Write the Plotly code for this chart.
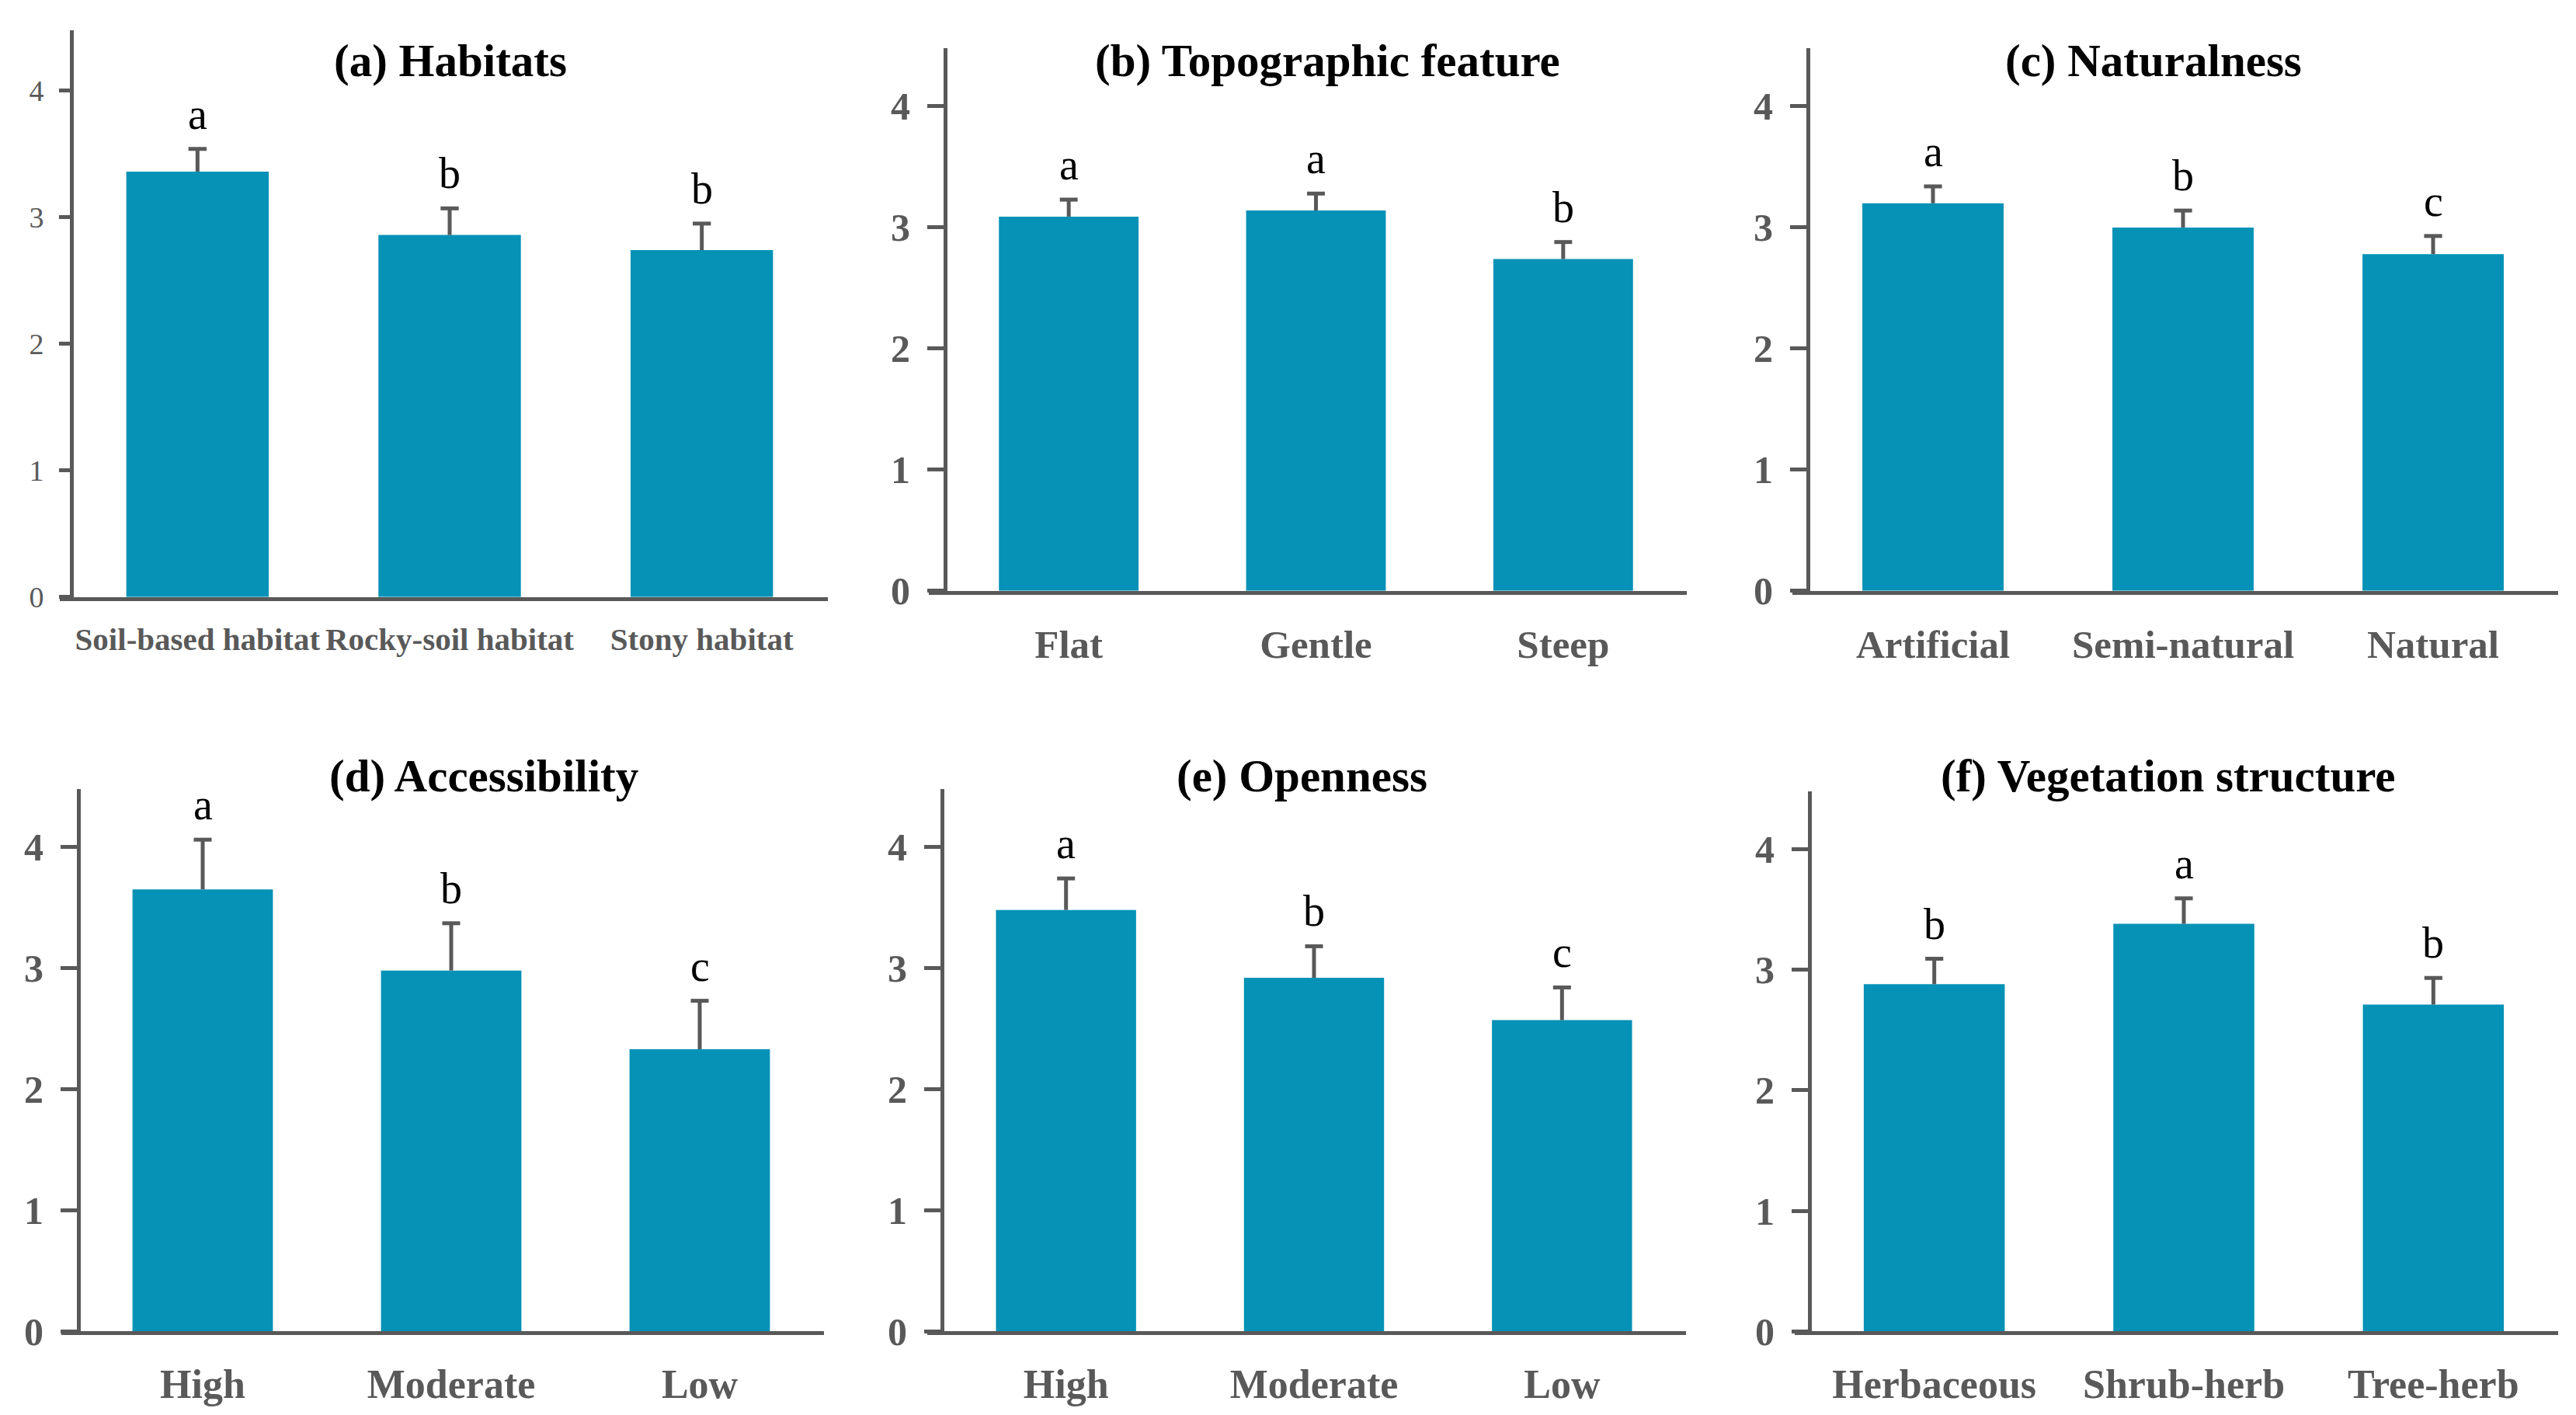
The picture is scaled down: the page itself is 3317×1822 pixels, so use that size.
import plotly.graph_objects as go

# ---------------- data ----------------
titles = ["(a) Habitats", "(b) Topographic feature", "(c) Naturalness",
          "(d) Accessibility", "(e) Openness", "(f) Vegetation structure"]

cats_a = ["Soil-based habitat", "Rocky-soil habitat", "Stony habitat"]
cats_b = ["Flat", "Gentle", "Steep"]
cats_c = ["Artificial", "Semi-natural", "Natural"]
cats_d = ["High", "Moderate", "Low"]
cats_e = ["High", "Moderate", "Low"]
cats_f = ["Herbaceous", "Shrub-herb", "Tree-herb"]

mean_a = [3.36, 2.86, 2.74]
mean_b = [3.09, 3.14, 2.74]
mean_c = [3.20, 3.00, 2.78]
mean_d = [3.65, 2.98, 2.33]
mean_e = [3.48, 2.92, 2.57]
mean_f = [2.88, 3.38, 2.71]

err_a = [0.18, 0.21, 0.21]
err_b = [0.14, 0.14, 0.14]
err_c = [0.14, 0.14, 0.15]
err_d = [0.41, 0.39, 0.40]
err_e = [0.26, 0.26, 0.27]
err_f = [0.21, 0.21, 0.22]

letters_a = ["a", "b", "b"]
letters_b = ["a", "a", "b"]
letters_c = ["a", "b", "c"]
letters_d = ["a", "b", "c"]
letters_e = ["a", "b", "c"]
letters_f = ["b", "a", "b"]

y_ticks = [0, 1, 2, 3, 4]

cats = [cats_a, cats_b, cats_c, cats_d, cats_e, cats_f]
means = [mean_a, mean_b, mean_c, mean_d, mean_e, mean_f]
errs = [err_a, err_b, err_c, err_d, err_e, err_f]
letters = [letters_a, letters_b, letters_c, letters_d, letters_e, letters_f]

# ---------------- layout geometry (pixels) ----------------
W, H = 3317, 1822
# yaxis_x, xaxis_left, xaxis_right, xaxis_y, yaxis_top, title_x, title_y, ytick_size, xtick_size, ticklen, xstandoff
geom = [
    (84, 69, 1058, 773, 31, 572, 71, 38, 41, 14, 14),
    (1209, 1188, 2164, 765, 55, 1701, 71, 50, 51, 21, 20),
    (2320, 2300, 3286, 765, 55, 2765, 71, 50, 51, 21, 20),
    (93, 71, 1053, 1734, 1024, 615, 1007, 50, 52, 21, 18),
    (1205, 1186, 2163, 1734, 1024, 1669, 1007, 50, 52, 21, 18),
    (2322, 2303, 3286, 1734, 1027, 2784, 1007, 50, 52, 21, 18),
]

BAR = "#0592B6"
AX = "#595959"
SERIF = "Liberation Serif, Times New Roman, serif"
CAP = 0.036  # half cap width in category units

fig = go.Figure()
annotations = []
layout = {}

for i in range(6):
    yx, xl, xr, xy, yt, tx, ty, ysz, xsz, tl, xso = geom[i]
    n = str(i + 1) if i > 0 else ""
    xref = "x" + n
    yref = "y" + n
    spacing = (xr - yx) / 3.0
    d = (yx - xl) / spacing
    ymax = 4.48

    fig.add_trace(go.Bar(
        x=list(range(3)), y=means[i], width=0.565,
        marker=dict(color=BAR, line=dict(width=0)),
        xaxis=xref, yaxis=yref, showlegend=False, hoverinfo="skip",
    ))

    # one-sided (upper) error bars: stem + top cap, built from the data
    ex, ey = [], []
    for k in range(3):
        top = means[i][k] + errs[i][k]
        ex += [k, k, None, k - CAP, k + CAP, None]
        ey += [means[i][k], top, None, top, top, None]
    fig.add_trace(go.Scatter(
        x=ex, y=ey, mode="lines", line=dict(color=AX, width=5),
        xaxis=xref, yaxis=yref, showlegend=False, hoverinfo="skip",
    ))

    layout["xaxis" + n] = dict(
        domain=[xl / W, xr / W], range=[-0.5 - d, 2.5], anchor=yref,
        tickmode="array", tickvals=list(range(3)), ticktext=cats[i],
        showline=True, linecolor=AX, linewidth=5, ticks="",
        showgrid=False, zeroline=False, ticklabelstandoff=xso,
        tickfont=dict(family=SERIF, size=xsz, color=AX, weight="bold"),
    )
    layout["yaxis" + n] = dict(
        domain=[1 - xy / H, 1 - yt / H], range=[0, ymax],
        anchor="free", position=yx / W,
        tickmode="array", tickvals=y_ticks,
        showline=True, linecolor=AX, linewidth=5,
        ticks="outside", ticklen=tl, tickwidth=5, tickcolor=AX,
        showgrid=False, zeroline=False, ticklabelstandoff=12,
        tickfont=dict(family=SERIF, size=ysz, color=AX,
                      weight="bold" if i > 0 else "normal"),
    )

    annotations.append(dict(
        text="<b>" + titles[i] + "</b>", xref="paper", yref="paper",
        x=tx / W, y=1 - ty / H, xanchor="center", yanchor="middle",
        showarrow=False, font=dict(family=SERIF, size=59, color="#000000"),
    ))
    for k in range(3):
        annotations.append(dict(
            text=letters[i][k], xref=xref, yref=yref,
            x=k, y=means[i][k] + errs[i][k], xanchor="center", yanchor="bottom",
            yshift=12, showarrow=False,
            font=dict(family=SERIF, size=56, color="#000000"),
        ))

fig.update_layout(
    width=W, height=H, margin=dict(l=0, r=0, t=0, b=0),
    paper_bgcolor="white", plot_bgcolor="white",
    annotations=annotations, **layout,
)

fig.write_html("out.html")
